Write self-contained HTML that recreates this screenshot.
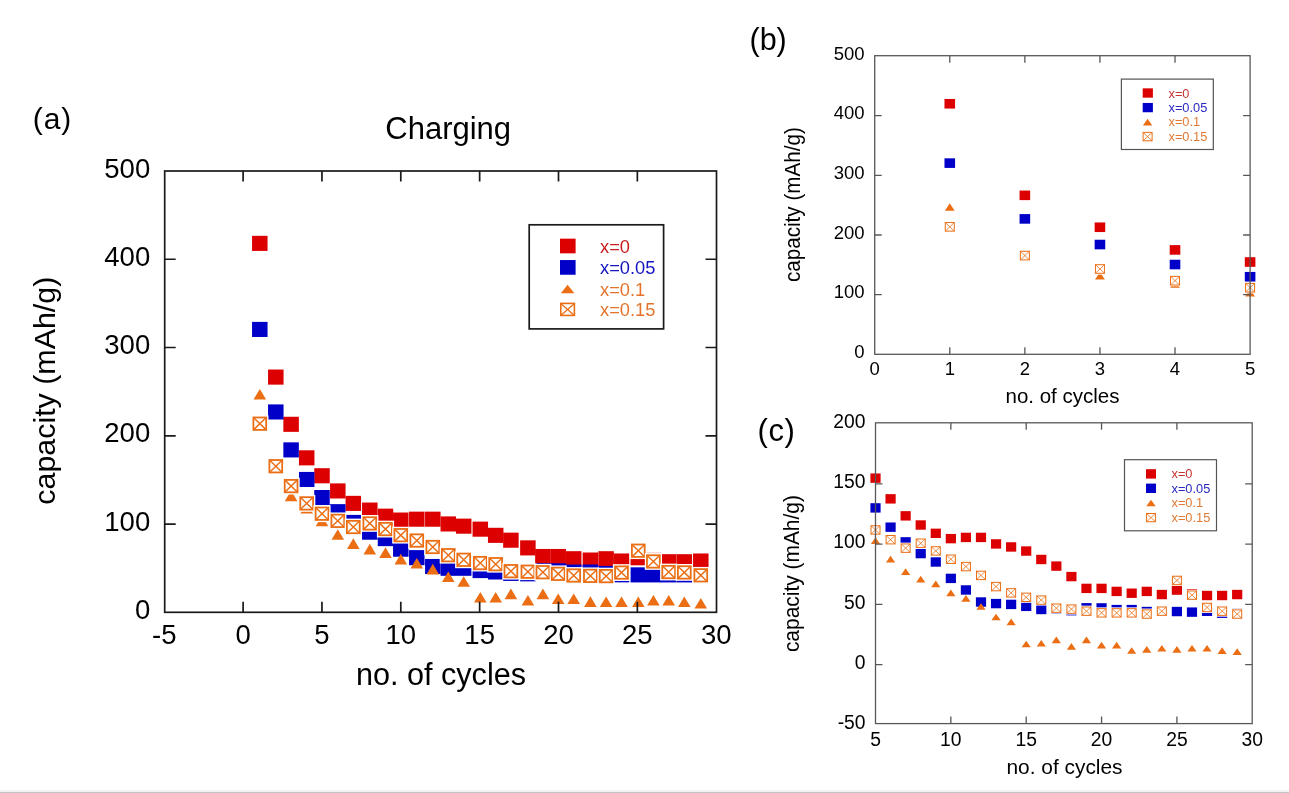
<!DOCTYPE html>
<html><head><meta charset="utf-8"><title>Charging capacity</title>
<style>html,body{margin:0;padding:0;background:#fff;overflow:hidden}svg{display:block;filter:blur(0.4px)}</style>
</head><body>
<svg width="1289" height="793" viewBox="0 0 1289 793" font-family="Liberation Sans, sans-serif">
<rect width="1289" height="793" fill="#fff"/>
<g id="pa">
<rect x="252.05" y="235.82" width="15.5" height="15.1" fill="#dc0000"/>
<rect x="268.05" y="369.54" width="15.5" height="15.1" fill="#dc0000"/>
<rect x="283.35" y="416.76" width="15.5" height="15.1" fill="#dc0000"/>
<rect x="298.95" y="450.29" width="15.5" height="15.1" fill="#dc0000"/>
<rect x="314.25" y="468.21" width="15.5" height="15.1" fill="#dc0000"/>
<rect x="330.05" y="483.39" width="15.5" height="15.1" fill="#dc0000"/>
<rect x="345.55" y="495.84" width="15.5" height="15.1" fill="#dc0000"/>
<rect x="362.05" y="502.54" width="15.5" height="15.1" fill="#dc0000"/>
<rect x="377.75" y="508.63" width="15.5" height="15.1" fill="#dc0000"/>
<rect x="393.05" y="512.52" width="15.5" height="15.1" fill="#dc0000"/>
<rect x="409.05" y="511.64" width="15.5" height="15.1" fill="#dc0000"/>
<rect x="425.05" y="511.64" width="15.5" height="15.1" fill="#dc0000"/>
<rect x="440.55" y="516.4" width="15.5" height="15.1" fill="#dc0000"/>
<rect x="455.95" y="518.61" width="15.5" height="15.1" fill="#dc0000"/>
<rect x="472.55" y="521.61" width="15.5" height="15.1" fill="#dc0000"/>
<rect x="487.95" y="527.79" width="15.5" height="15.1" fill="#dc0000"/>
<rect x="503.15" y="532.64" width="15.5" height="15.1" fill="#dc0000"/>
<rect x="520.15" y="540.32" width="15.5" height="15.1" fill="#dc0000"/>
<rect x="535.15" y="548.97" width="15.5" height="15.1" fill="#dc0000"/>
<rect x="550.45" y="548.97" width="15.5" height="15.1" fill="#dc0000"/>
<rect x="565.95" y="551.18" width="15.5" height="15.1" fill="#dc0000"/>
<rect x="582.65" y="552.5" width="15.5" height="15.1" fill="#dc0000"/>
<rect x="598.35" y="551.18" width="15.5" height="15.1" fill="#dc0000"/>
<rect x="613.75" y="553.47" width="15.5" height="15.1" fill="#dc0000"/>
<rect x="630.55" y="550.21" width="15.5" height="15.1" fill="#dc0000"/>
<rect x="645.65" y="552.85" width="15.5" height="15.1" fill="#dc0000"/>
<rect x="660.95" y="554.18" width="15.5" height="15.1" fill="#dc0000"/>
<rect x="676.55" y="554.18" width="15.5" height="15.1" fill="#dc0000"/>
<rect x="693.05" y="553.47" width="15.5" height="15.1" fill="#dc0000"/>
<rect x="252.05" y="321.88" width="15.5" height="15.1" fill="#0000c8"/>
<rect x="268.05" y="404.4" width="15.5" height="15.1" fill="#0000c8"/>
<rect x="283.35" y="442.35" width="15.5" height="15.1" fill="#0000c8"/>
<rect x="298.95" y="471.92" width="15.5" height="15.1" fill="#0000c8"/>
<rect x="314.25" y="490.01" width="15.5" height="15.1" fill="#0000c8"/>
<rect x="330.05" y="504.13" width="15.5" height="15.1" fill="#0000c8"/>
<rect x="345.55" y="514.9" width="15.5" height="15.1" fill="#0000c8"/>
<rect x="362.05" y="524.61" width="15.5" height="15.1" fill="#0000c8"/>
<rect x="377.75" y="531.05" width="15.5" height="15.1" fill="#0000c8"/>
<rect x="393.05" y="541.64" width="15.5" height="15.1" fill="#0000c8"/>
<rect x="409.05" y="550.12" width="15.5" height="15.1" fill="#0000c8"/>
<rect x="425.05" y="558.94" width="15.5" height="15.1" fill="#0000c8"/>
<rect x="440.55" y="560.71" width="15.5" height="15.1" fill="#0000c8"/>
<rect x="455.95" y="560.71" width="15.5" height="15.1" fill="#0000c8"/>
<rect x="472.55" y="563" width="15.5" height="15.1" fill="#0000c8"/>
<rect x="487.95" y="564.42" width="15.5" height="15.1" fill="#0000c8"/>
<rect x="503.15" y="565.83" width="15.5" height="15.1" fill="#0000c8"/>
<rect x="520.15" y="566.27" width="15.5" height="15.1" fill="#0000c8"/>
<rect x="535.15" y="563.18" width="15.5" height="15.1" fill="#0000c8"/>
<rect x="550.45" y="563.27" width="15.5" height="15.1" fill="#0000c8"/>
<rect x="565.95" y="564.5" width="15.5" height="15.1" fill="#0000c8"/>
<rect x="582.65" y="564.5" width="15.5" height="15.1" fill="#0000c8"/>
<rect x="598.35" y="565.92" width="15.5" height="15.1" fill="#0000c8"/>
<rect x="613.75" y="567.24" width="15.5" height="15.1" fill="#0000c8"/>
<rect x="630.55" y="567.33" width="15.5" height="15.1" fill="#0000c8"/>
<rect x="645.65" y="567.33" width="15.5" height="15.1" fill="#0000c8"/>
<rect x="660.95" y="567.33" width="15.5" height="15.1" fill="#0000c8"/>
<rect x="676.55" y="567.33" width="15.5" height="15.1" fill="#0000c8"/>
<rect x="693.05" y="567.95" width="15.5" height="15.1" fill="#0000c8"/>
<path d="M259.8 388.88L266.1 399.48L253.5 399.48Z" fill="#eb6e14"/>
<path d="M275.8 458.61L282.1 469.21L269.5 469.21Z" fill="#eb6e14"/>
<path d="M291.1 490.56L297.4 501.16L284.8 501.16Z" fill="#eb6e14"/>
<path d="M306.7 502.91L313 513.51L300.4 513.51Z" fill="#eb6e14"/>
<path d="M322 515.62L328.3 526.22L315.7 526.22Z" fill="#eb6e14"/>
<path d="M337.8 529.13L344.1 539.73L331.5 539.73Z" fill="#eb6e14"/>
<path d="M353.3 538.3L359.6 548.9L347 548.9Z" fill="#eb6e14"/>
<path d="M369.8 543.78L376.1 554.38L363.5 554.38Z" fill="#eb6e14"/>
<path d="M385.5 547.31L391.8 557.91L379.2 557.91Z" fill="#eb6e14"/>
<path d="M400.8 553.84L407.1 564.44L394.5 564.44Z" fill="#eb6e14"/>
<path d="M416.8 557.9L423.1 568.5L410.5 568.5Z" fill="#eb6e14"/>
<path d="M432.8 563.81L439.1 574.41L426.5 574.41Z" fill="#eb6e14"/>
<path d="M448.3 571.49L454.6 582.09L442 582.09Z" fill="#eb6e14"/>
<path d="M463.7 576.17L470 586.77L457.4 586.77Z" fill="#eb6e14"/>
<path d="M480.3 591.88L486.6 602.48L474 602.48Z" fill="#eb6e14"/>
<path d="M495.7 591.88L502 602.48L489.4 602.48Z" fill="#eb6e14"/>
<path d="M510.9 588.61L517.2 599.21L504.6 599.21Z" fill="#eb6e14"/>
<path d="M527.9 594.88L534.2 605.48L521.6 605.48Z" fill="#eb6e14"/>
<path d="M542.9 588.61L549.2 599.21L536.6 599.21Z" fill="#eb6e14"/>
<path d="M558.2 593.38L564.5 603.98L551.9 603.98Z" fill="#eb6e14"/>
<path d="M573.7 593.38L580 603.98L567.4 603.98Z" fill="#eb6e14"/>
<path d="M590.4 596.29L596.7 606.89L584.1 606.89Z" fill="#eb6e14"/>
<path d="M606.1 596.38L612.4 606.98L599.8 606.98Z" fill="#eb6e14"/>
<path d="M621.5 596.38L627.8 606.98L615.2 606.98Z" fill="#eb6e14"/>
<path d="M638.3 596.38L644.6 606.98L632 606.98Z" fill="#eb6e14"/>
<path d="M653.4 594.97L659.7 605.57L647.1 605.57Z" fill="#eb6e14"/>
<path d="M668.7 594.97L675 605.57L662.4 605.57Z" fill="#eb6e14"/>
<path d="M684.3 596.38L690.6 606.98L678 606.98Z" fill="#eb6e14"/>
<path d="M700.8 597.88L707.1 608.48L694.5 608.48Z" fill="#eb6e14"/>
<rect x="251.2" y="415.29" width="17.2" height="16.8" fill="#fff"/><rect x="253.4" y="417.49" width="12.8" height="12.4" fill="#fff" stroke="#eb6e14" stroke-width="1.8"/><path d="M253.4 417.49L266.2 429.89M266.2 417.49L253.4 429.89" stroke="#eb6e14" stroke-width="1.44" fill="none"/>
<rect x="267.2" y="457.83" width="17.2" height="16.8" fill="#fff"/><rect x="269.4" y="460.03" width="12.8" height="12.4" fill="#fff" stroke="#eb6e14" stroke-width="1.8"/><path d="M269.4 460.03L282.2 472.43M282.2 460.03L269.4 472.43" stroke="#eb6e14" stroke-width="1.44" fill="none"/>
<rect x="282.5" y="477.69" width="17.2" height="16.8" fill="#fff"/><rect x="284.7" y="479.89" width="12.8" height="12.4" fill="#fff" stroke="#eb6e14" stroke-width="1.8"/><path d="M284.7 479.89L297.5 492.29M297.5 479.89L284.7 492.29" stroke="#eb6e14" stroke-width="1.44" fill="none"/>
<rect x="298.1" y="494.99" width="17.2" height="16.8" fill="#fff"/><rect x="300.3" y="497.19" width="12.8" height="12.4" fill="#fff" stroke="#eb6e14" stroke-width="1.8"/><path d="M300.3 497.19L313.1 509.59M313.1 497.19L300.3 509.59" stroke="#eb6e14" stroke-width="1.44" fill="none"/>
<rect x="313.4" y="505.31" width="17.2" height="16.8" fill="#fff"/><rect x="315.6" y="507.51" width="12.8" height="12.4" fill="#fff" stroke="#eb6e14" stroke-width="1.8"/><path d="M315.6 507.51L328.4 519.91M328.4 507.51L315.6 519.91" stroke="#eb6e14" stroke-width="1.44" fill="none"/>
<rect x="329.2" y="512.46" width="17.2" height="16.8" fill="#fff"/><rect x="331.4" y="514.66" width="12.8" height="12.4" fill="#fff" stroke="#eb6e14" stroke-width="1.8"/><path d="M331.4 514.66L344.2 527.06M344.2 514.66L331.4 527.06" stroke="#eb6e14" stroke-width="1.44" fill="none"/>
<rect x="344.7" y="518.64" width="17.2" height="16.8" fill="#fff"/><rect x="346.9" y="520.84" width="12.8" height="12.4" fill="#fff" stroke="#eb6e14" stroke-width="1.8"/><path d="M346.9 520.84L359.7 533.24M359.7 520.84L346.9 533.24" stroke="#eb6e14" stroke-width="1.44" fill="none"/>
<rect x="361.2" y="515.02" width="17.2" height="16.8" fill="#fff"/><rect x="363.4" y="517.22" width="12.8" height="12.4" fill="#fff" stroke="#eb6e14" stroke-width="1.8"/><path d="M363.4 517.22L376.2 529.62M376.2 517.22L363.4 529.62" stroke="#eb6e14" stroke-width="1.44" fill="none"/>
<rect x="376.9" y="520.67" width="17.2" height="16.8" fill="#fff"/><rect x="379.1" y="522.87" width="12.8" height="12.4" fill="#fff" stroke="#eb6e14" stroke-width="1.8"/><path d="M379.1 522.87L391.9 535.27M391.9 522.87L379.1 535.27" stroke="#eb6e14" stroke-width="1.44" fill="none"/>
<rect x="392.2" y="526.76" width="17.2" height="16.8" fill="#fff"/><rect x="394.4" y="528.96" width="12.8" height="12.4" fill="#fff" stroke="#eb6e14" stroke-width="1.8"/><path d="M394.4 528.96L407.2 541.36M407.2 528.96L394.4 541.36" stroke="#eb6e14" stroke-width="1.44" fill="none"/>
<rect x="408.2" y="532.14" width="17.2" height="16.8" fill="#fff"/><rect x="410.4" y="534.34" width="12.8" height="12.4" fill="#fff" stroke="#eb6e14" stroke-width="1.8"/><path d="M410.4 534.34L423.2 546.74M423.2 534.34L410.4 546.74" stroke="#eb6e14" stroke-width="1.44" fill="none"/>
<rect x="424.2" y="538.59" width="17.2" height="16.8" fill="#fff"/><rect x="426.4" y="540.79" width="12.8" height="12.4" fill="#fff" stroke="#eb6e14" stroke-width="1.8"/><path d="M426.4 540.79L439.2 553.19M439.2 540.79L426.4 553.19" stroke="#eb6e14" stroke-width="1.44" fill="none"/>
<rect x="439.7" y="546.8" width="17.2" height="16.8" fill="#fff"/><rect x="441.9" y="549" width="12.8" height="12.4" fill="#fff" stroke="#eb6e14" stroke-width="1.8"/><path d="M441.9 549L454.7 561.4M454.7 549L441.9 561.4" stroke="#eb6e14" stroke-width="1.44" fill="none"/>
<rect x="455.1" y="551.39" width="17.2" height="16.8" fill="#fff"/><rect x="457.3" y="553.59" width="12.8" height="12.4" fill="#fff" stroke="#eb6e14" stroke-width="1.8"/><path d="M457.3 553.59L470.1 565.99M470.1 553.59L457.3 565.99" stroke="#eb6e14" stroke-width="1.44" fill="none"/>
<rect x="471.7" y="554.65" width="17.2" height="16.8" fill="#fff"/><rect x="473.9" y="556.85" width="12.8" height="12.4" fill="#fff" stroke="#eb6e14" stroke-width="1.8"/><path d="M473.9 556.85L486.7 569.25M486.7 556.85L473.9 569.25" stroke="#eb6e14" stroke-width="1.44" fill="none"/>
<rect x="487.1" y="555.8" width="17.2" height="16.8" fill="#fff"/><rect x="489.3" y="558" width="12.8" height="12.4" fill="#fff" stroke="#eb6e14" stroke-width="1.8"/><path d="M489.3 558L502.1 570.4M502.1 558L489.3 570.4" stroke="#eb6e14" stroke-width="1.44" fill="none"/>
<rect x="502.3" y="562.77" width="17.2" height="16.8" fill="#fff"/><rect x="504.5" y="564.97" width="12.8" height="12.4" fill="#fff" stroke="#eb6e14" stroke-width="1.8"/><path d="M504.5 564.97L517.3 577.37M517.3 564.97L504.5 577.37" stroke="#eb6e14" stroke-width="1.44" fill="none"/>
<rect x="519.3" y="563.3" width="17.2" height="16.8" fill="#fff"/><rect x="521.5" y="565.5" width="12.8" height="12.4" fill="#fff" stroke="#eb6e14" stroke-width="1.8"/><path d="M521.5 565.5L534.3 577.9M534.3 565.5L521.5 577.9" stroke="#eb6e14" stroke-width="1.44" fill="none"/>
<rect x="534.3" y="563.83" width="17.2" height="16.8" fill="#fff"/><rect x="536.5" y="566.03" width="12.8" height="12.4" fill="#fff" stroke="#eb6e14" stroke-width="1.8"/><path d="M536.5 566.03L549.3 578.43M549.3 566.03L536.5 578.43" stroke="#eb6e14" stroke-width="1.44" fill="none"/>
<rect x="549.6" y="565.42" width="17.2" height="16.8" fill="#fff"/><rect x="551.8" y="567.62" width="12.8" height="12.4" fill="#fff" stroke="#eb6e14" stroke-width="1.8"/><path d="M551.8 567.62L564.6 580.02M564.6 567.62L551.8 580.02" stroke="#eb6e14" stroke-width="1.44" fill="none"/>
<rect x="565.1" y="567.1" width="17.2" height="16.8" fill="#fff"/><rect x="567.3" y="569.3" width="12.8" height="12.4" fill="#fff" stroke="#eb6e14" stroke-width="1.8"/><path d="M567.3 569.3L580.1 581.7M580.1 569.3L567.3 581.7" stroke="#eb6e14" stroke-width="1.44" fill="none"/>
<rect x="581.8" y="567.45" width="17.2" height="16.8" fill="#fff"/><rect x="584" y="569.65" width="12.8" height="12.4" fill="#fff" stroke="#eb6e14" stroke-width="1.8"/><path d="M584 569.65L596.8 582.05M596.8 569.65L584 582.05" stroke="#eb6e14" stroke-width="1.44" fill="none"/>
<rect x="597.5" y="567.71" width="17.2" height="16.8" fill="#fff"/><rect x="599.7" y="569.91" width="12.8" height="12.4" fill="#fff" stroke="#eb6e14" stroke-width="1.8"/><path d="M599.7 569.91L612.5 582.31M612.5 569.91L599.7 582.31" stroke="#eb6e14" stroke-width="1.44" fill="none"/>
<rect x="612.9" y="564.18" width="17.2" height="16.8" fill="#fff"/><rect x="615.1" y="566.38" width="12.8" height="12.4" fill="#fff" stroke="#eb6e14" stroke-width="1.8"/><path d="M615.1 566.38L627.9 578.78M627.9 566.38L615.1 578.78" stroke="#eb6e14" stroke-width="1.44" fill="none"/>
<rect x="629.7" y="542.29" width="17.2" height="16.8" fill="#fff"/><rect x="631.9" y="544.49" width="12.8" height="12.4" fill="#fff" stroke="#eb6e14" stroke-width="1.8"/><path d="M631.9 544.49L644.7 556.89M644.7 544.49L631.9 556.89" stroke="#eb6e14" stroke-width="1.44" fill="none"/>
<rect x="644.8" y="553.06" width="17.2" height="16.8" fill="#fff"/><rect x="647" y="555.26" width="12.8" height="12.4" fill="#fff" stroke="#eb6e14" stroke-width="1.8"/><path d="M647 555.26L659.8 567.66M659.8 555.26L647 567.66" stroke="#eb6e14" stroke-width="1.44" fill="none"/>
<rect x="660.1" y="563.65" width="17.2" height="16.8" fill="#fff"/><rect x="662.3" y="565.85" width="12.8" height="12.4" fill="#fff" stroke="#eb6e14" stroke-width="1.8"/><path d="M662.3 565.85L675.1 578.25M675.1 565.85L662.3 578.25" stroke="#eb6e14" stroke-width="1.44" fill="none"/>
<rect x="675.7" y="564.01" width="17.2" height="16.8" fill="#fff"/><rect x="677.9" y="566.21" width="12.8" height="12.4" fill="#fff" stroke="#eb6e14" stroke-width="1.8"/><path d="M677.9 566.21L690.7 578.61M690.7 566.21L677.9 578.61" stroke="#eb6e14" stroke-width="1.44" fill="none"/>
<rect x="692.2" y="566.92" width="17.2" height="16.8" fill="#fff"/><rect x="694.4" y="569.12" width="12.8" height="12.4" fill="#fff" stroke="#eb6e14" stroke-width="1.8"/><path d="M694.4 569.12L707.2 581.52M707.2 569.12L694.4 581.52" stroke="#eb6e14" stroke-width="1.44" fill="none"/>
<path d="M243.1 612.3V601.8M243.1 171V181.5M321.95 612.3V601.8M321.95 171V181.5M400.8 612.3V601.8M400.8 171V181.5M479.65 612.3V601.8M479.65 171V181.5M558.5 612.3V601.8M558.5 171V181.5M637.35 612.3V601.8M637.35 171V181.5M164.7 524.04H175.7M716.5 524.04H705.5M164.7 435.78H175.7M716.5 435.78H705.5M164.7 347.52H175.7M716.5 347.52H705.5M164.7 259.26H175.7M716.5 259.26H705.5" stroke="#1a1a1a" stroke-width="1.7" fill="none"/>
<rect x="164.7" y="171" width="551.8" height="441.3" fill="none" stroke="#1a1a1a" stroke-width="1.7"/>
<text x="150.2" y="619" font-size="27.5" text-anchor="end">0</text>
<text x="150.2" y="530.74" font-size="27.5" text-anchor="end">100</text>
<text x="150.2" y="442.48" font-size="27.5" text-anchor="end">200</text>
<text x="150.2" y="354.22" font-size="27.5" text-anchor="end">300</text>
<text x="150.2" y="265.96" font-size="27.5" text-anchor="end">400</text>
<text x="150.2" y="177.7" font-size="27.5" text-anchor="end">500</text>
<text x="164.25" y="643.8" font-size="27.5" text-anchor="middle">-5</text>
<text x="243.1" y="643.8" font-size="27.5" text-anchor="middle">0</text>
<text x="321.95" y="643.8" font-size="27.5" text-anchor="middle">5</text>
<text x="400.8" y="643.8" font-size="27.5" text-anchor="middle">10</text>
<text x="479.65" y="643.8" font-size="27.5" text-anchor="middle">15</text>
<text x="558.5" y="643.8" font-size="27.5" text-anchor="middle">20</text>
<text x="637.35" y="643.8" font-size="27.5" text-anchor="middle">25</text>
<text x="716.2" y="643.8" font-size="27.5" text-anchor="middle">30</text>
<text x="441" y="685" font-size="30.6" text-anchor="middle">no. of cycles</text>
<text x="448.2" y="138.7" font-size="31" text-anchor="middle">Charging</text>
<text transform="translate(54.5 390.7) rotate(-90)" font-size="30" text-anchor="middle" textLength="228" lengthAdjust="spacingAndGlyphs">capacity (mAh/g)</text>
<text x="32.8" y="129.3" font-size="30" letter-spacing="0.9">(a)</text>
<rect x="529.2" y="224.8" width="134.4" height="104.1" fill="#fff" stroke="#1a1a1a" stroke-width="1.7"/>
<rect x="560" y="238.65" width="15.6" height="14.7" fill="#dc0000"/>
<rect x="560" y="260.05" width="15.6" height="14.7" fill="#0000c8"/>
<path d="M567.6 284.65L574.35 293.35L560.85 293.35Z" fill="#eb6e14"/>
<rect x="560.8" y="303.4" width="13.6" height="12" fill="#fff" stroke="#eb6e14" stroke-width="1.6"/><path d="M560.8 303.4L574.4 315.4M574.4 303.4L560.8 315.4" stroke="#eb6e14" stroke-width="1.28" fill="none"/>
<text x="600" y="252.7" font-size="18.3" fill="#c81e1e">x=0</text>
<text x="600" y="274.2" font-size="18.3" fill="#1414c0">x=0.05</text>
<text x="600" y="295.6" font-size="18.3" fill="#e4742c">x=0.1</text>
<text x="600" y="316.2" font-size="18.3" fill="#e4742c">x=0.15</text>
</g>
<g id="pb">
<rect x="944.48" y="98.97" width="10.6" height="9.6" fill="#dc0000"/>
<rect x="1019.56" y="190.53" width="10.6" height="9.6" fill="#dc0000"/>
<rect x="1094.64" y="222.45" width="10.6" height="9.6" fill="#dc0000"/>
<rect x="1169.72" y="245.11" width="10.6" height="9.6" fill="#dc0000"/>
<rect x="1244.8" y="257.22" width="10.6" height="9.6" fill="#dc0000"/>
<rect x="944.48" y="158.32" width="10.6" height="9.6" fill="#0000c8"/>
<rect x="1019.56" y="214.09" width="10.6" height="9.6" fill="#0000c8"/>
<rect x="1094.64" y="239.74" width="10.6" height="9.6" fill="#0000c8"/>
<rect x="1169.72" y="259.73" width="10.6" height="9.6" fill="#0000c8"/>
<rect x="1244.8" y="271.95" width="10.6" height="9.6" fill="#0000c8"/>
<path d="M949.78 203.36L954.68 210.76L944.88 210.76Z" fill="#eb6e14"/>
<path d="M1024.86 250.48L1029.76 257.88L1019.96 257.88Z" fill="#eb6e14"/>
<path d="M1099.94 272.08L1104.84 279.48L1095.04 279.48Z" fill="#eb6e14"/>
<path d="M1175.02 280.43L1179.92 287.83L1170.12 287.83Z" fill="#eb6e14"/>
<path d="M1250.1 289.02L1255 296.42L1245.2 296.42Z" fill="#eb6e14"/>
<rect x="943.98" y="221.23" width="11.6" height="11.2" fill="#fff"/><rect x="945.28" y="222.53" width="9" height="8.6" fill="#fff" stroke="#eb6e14" stroke-width="1"/><path d="M945.28 222.53L954.28 231.13M954.28 222.53L945.28 231.13" stroke="#eb6e14" stroke-width="0.8" fill="none"/>
<rect x="1019.06" y="249.98" width="11.6" height="11.2" fill="#fff"/><rect x="1020.36" y="251.28" width="9" height="8.6" fill="#fff" stroke="#eb6e14" stroke-width="1"/><path d="M1020.36 251.28L1029.36 259.88M1029.36 251.28L1020.36 259.88" stroke="#eb6e14" stroke-width="0.8" fill="none"/>
<rect x="1094.14" y="263.4" width="11.6" height="11.2" fill="#fff"/><rect x="1095.44" y="264.7" width="9" height="8.6" fill="#fff" stroke="#eb6e14" stroke-width="1"/><path d="M1095.44 264.7L1104.44 273.3M1104.44 264.7L1095.44 273.3" stroke="#eb6e14" stroke-width="0.8" fill="none"/>
<rect x="1169.22" y="275.09" width="11.6" height="11.2" fill="#fff"/><rect x="1170.52" y="276.39" width="9" height="8.6" fill="#fff" stroke="#eb6e14" stroke-width="1"/><path d="M1170.52 276.39L1179.52 284.99M1179.52 276.39L1170.52 284.99" stroke="#eb6e14" stroke-width="0.8" fill="none"/>
<rect x="1244.3" y="282.07" width="11.6" height="11.2" fill="#fff"/><rect x="1245.6" y="283.37" width="9" height="8.6" fill="#fff" stroke="#eb6e14" stroke-width="1"/><path d="M1245.6 283.37L1254.6 291.97M1254.6 283.37L1245.6 291.97" stroke="#eb6e14" stroke-width="0.8" fill="none"/>
<path d="M949.78 354.3V347.3M949.78 55.7V62.7M1024.86 354.3V347.3M1024.86 55.7V62.7M1099.94 354.3V347.3M1099.94 55.7V62.7M1175.02 354.3V347.3M1175.02 55.7V62.7M874.7 294.65H881.7M1250.1 294.65H1243.1M874.7 235H881.7M1250.1 235H1243.1M874.7 175.35H881.7M1250.1 175.35H1243.1M874.7 115.7H881.7M1250.1 115.7H1243.1" stroke="#585858" stroke-width="1.3" fill="none"/>
<rect x="874.7" y="55.7" width="375.4" height="298.6" fill="none" stroke="#585858" stroke-width="1.3"/>
<text x="864.5" y="358" font-size="18.5" text-anchor="end">0</text>
<text x="864.5" y="298.35" font-size="18.5" text-anchor="end">100</text>
<text x="864.5" y="238.7" font-size="18.5" text-anchor="end">200</text>
<text x="864.5" y="179.05" font-size="18.5" text-anchor="end">300</text>
<text x="864.5" y="119.4" font-size="18.5" text-anchor="end">400</text>
<text x="864.5" y="59.75" font-size="18.5" text-anchor="end">500</text>
<text x="874.7" y="375" font-size="18.5" text-anchor="middle">0</text>
<text x="949.78" y="375" font-size="18.5" text-anchor="middle">1</text>
<text x="1024.86" y="375" font-size="18.5" text-anchor="middle">2</text>
<text x="1099.94" y="375" font-size="18.5" text-anchor="middle">3</text>
<text x="1175.02" y="375" font-size="18.5" text-anchor="middle">4</text>
<text x="1250.1" y="375" font-size="18.5" text-anchor="middle">5</text>
<text x="1062.5" y="402.8" font-size="20.5" text-anchor="middle">no. of cycles</text>
<text transform="translate(799.6 204.6) rotate(-90)" font-size="21.3" text-anchor="middle" textLength="155" lengthAdjust="spacingAndGlyphs">capacity (mAh/g)</text>
<text x="749.5" y="50" font-size="30.5">(b)</text>
<rect x="1121.4" y="79.1" width="91.9" height="70.4" fill="#fff" stroke="#555" stroke-width="1.2"/>
<rect x="1142.7" y="88.35" width="10.2" height="9.3" fill="#dc0000"/>
<rect x="1142.7" y="102.95" width="10.2" height="9.3" fill="#0000c8"/>
<path d="M1147.6 118.8L1152.3 125.4L1142.9 125.4Z" fill="#eb6e14"/>
<rect x="1143.1" y="132.4" width="9" height="8.4" fill="#fff" stroke="#eb6e14" stroke-width="1"/><path d="M1143.1 132.4L1152.1 140.8M1152.1 132.4L1143.1 140.8" stroke="#eb6e14" stroke-width="0.8" fill="none"/>
<text x="1168.5" y="97.6" font-size="12.8" fill="#c83232">x=0</text>
<text x="1168.5" y="112" font-size="12.8" fill="#2828c0">x=0.05</text>
<text x="1168.5" y="126.4" font-size="12.8" fill="#e07a34">x=0.1</text>
<text x="1168.5" y="141" font-size="12.8" fill="#e07a34">x=0.15</text>
</g>
<g id="pc">
<rect x="870.4" y="473.44" width="10.2" height="9.4" fill="#dc0000"/>
<rect x="885.47" y="494.16" width="10.2" height="9.4" fill="#dc0000"/>
<rect x="900.54" y="511.15" width="10.2" height="9.4" fill="#dc0000"/>
<rect x="915.61" y="520.31" width="10.2" height="9.4" fill="#dc0000"/>
<rect x="930.68" y="528.63" width="10.2" height="9.4" fill="#dc0000"/>
<rect x="945.75" y="533.93" width="10.2" height="9.4" fill="#dc0000"/>
<rect x="960.82" y="532.72" width="10.2" height="9.4" fill="#dc0000"/>
<rect x="975.89" y="532.72" width="10.2" height="9.4" fill="#dc0000"/>
<rect x="990.96" y="539.23" width="10.2" height="9.4" fill="#dc0000"/>
<rect x="1006.03" y="542.24" width="10.2" height="9.4" fill="#dc0000"/>
<rect x="1021.1" y="546.34" width="10.2" height="9.4" fill="#dc0000"/>
<rect x="1036.17" y="554.77" width="10.2" height="9.4" fill="#dc0000"/>
<rect x="1051.24" y="561.4" width="10.2" height="9.4" fill="#dc0000"/>
<rect x="1066.31" y="571.88" width="10.2" height="9.4" fill="#dc0000"/>
<rect x="1081.38" y="583.69" width="10.2" height="9.4" fill="#dc0000"/>
<rect x="1096.45" y="583.69" width="10.2" height="9.4" fill="#dc0000"/>
<rect x="1111.52" y="586.71" width="10.2" height="9.4" fill="#dc0000"/>
<rect x="1126.59" y="588.51" width="10.2" height="9.4" fill="#dc0000"/>
<rect x="1141.66" y="586.71" width="10.2" height="9.4" fill="#dc0000"/>
<rect x="1156.73" y="589.84" width="10.2" height="9.4" fill="#dc0000"/>
<rect x="1171.8" y="585.38" width="10.2" height="9.4" fill="#dc0000"/>
<rect x="1186.87" y="589" width="10.2" height="9.4" fill="#dc0000"/>
<rect x="1201.94" y="590.8" width="10.2" height="9.4" fill="#dc0000"/>
<rect x="1217.01" y="590.8" width="10.2" height="9.4" fill="#dc0000"/>
<rect x="1232.08" y="589.84" width="10.2" height="9.4" fill="#dc0000"/>
<rect x="870.4" y="503.2" width="10.2" height="9.4" fill="#0000c8"/>
<rect x="885.47" y="522.48" width="10.2" height="9.4" fill="#0000c8"/>
<rect x="900.54" y="537.18" width="10.2" height="9.4" fill="#0000c8"/>
<rect x="915.61" y="548.87" width="10.2" height="9.4" fill="#0000c8"/>
<rect x="930.68" y="557.3" width="10.2" height="9.4" fill="#0000c8"/>
<rect x="945.75" y="573.69" width="10.2" height="9.4" fill="#0000c8"/>
<rect x="960.82" y="585.26" width="10.2" height="9.4" fill="#0000c8"/>
<rect x="975.89" y="597.31" width="10.2" height="9.4" fill="#0000c8"/>
<rect x="990.96" y="598.88" width="10.2" height="9.4" fill="#0000c8"/>
<rect x="1006.03" y="599.72" width="10.2" height="9.4" fill="#0000c8"/>
<rect x="1021.1" y="601.65" width="10.2" height="9.4" fill="#0000c8"/>
<rect x="1036.17" y="604.78" width="10.2" height="9.4" fill="#0000c8"/>
<rect x="1051.24" y="604.42" width="10.2" height="9.4" fill="#0000c8"/>
<rect x="1066.31" y="605.99" width="10.2" height="9.4" fill="#0000c8"/>
<rect x="1081.38" y="603.09" width="10.2" height="9.4" fill="#0000c8"/>
<rect x="1096.45" y="603.21" width="10.2" height="9.4" fill="#0000c8"/>
<rect x="1111.52" y="604.9" width="10.2" height="9.4" fill="#0000c8"/>
<rect x="1126.59" y="604.9" width="10.2" height="9.4" fill="#0000c8"/>
<rect x="1141.66" y="606.83" width="10.2" height="9.4" fill="#0000c8"/>
<rect x="1156.73" y="606.59" width="10.2" height="9.4" fill="#0000c8"/>
<rect x="1171.8" y="606.83" width="10.2" height="9.4" fill="#0000c8"/>
<rect x="1186.87" y="607.43" width="10.2" height="9.4" fill="#0000c8"/>
<rect x="1201.94" y="606.59" width="10.2" height="9.4" fill="#0000c8"/>
<rect x="1217.01" y="608.52" width="10.2" height="9.4" fill="#0000c8"/>
<rect x="1232.08" y="608.76" width="10.2" height="9.4" fill="#0000c8"/>
<path d="M875.5 537.36L880.1 543.96L870.9 543.96Z" fill="#eb6e14"/>
<path d="M890.57 555.79L895.17 562.39L885.97 562.39Z" fill="#eb6e14"/>
<path d="M905.64 568.33L910.24 574.93L901.04 574.93Z" fill="#eb6e14"/>
<path d="M920.71 575.8L925.31 582.4L916.11 582.4Z" fill="#eb6e14"/>
<path d="M935.78 580.62L940.38 587.22L931.18 587.22Z" fill="#eb6e14"/>
<path d="M950.85 589.53L955.45 596.13L946.25 596.13Z" fill="#eb6e14"/>
<path d="M965.92 595.08L970.52 601.68L961.32 601.68Z" fill="#eb6e14"/>
<path d="M980.99 603.15L985.59 609.75L976.39 609.75Z" fill="#eb6e14"/>
<path d="M996.06 613.63L1000.66 620.23L991.46 620.23Z" fill="#eb6e14"/>
<path d="M1011.13 618.58L1015.73 625.17L1006.53 625.17Z" fill="#eb6e14"/>
<path d="M1026.2 640.75L1030.8 647.35L1021.6 647.35Z" fill="#eb6e14"/>
<path d="M1041.27 639.9L1045.87 646.5L1036.67 646.5Z" fill="#eb6e14"/>
<path d="M1056.34 636.53L1060.94 643.13L1051.74 643.13Z" fill="#eb6e14"/>
<path d="M1071.41 643.04L1076.01 649.64L1066.81 649.64Z" fill="#eb6e14"/>
<path d="M1086.48 636.53L1091.08 643.13L1081.88 643.13Z" fill="#eb6e14"/>
<path d="M1101.55 641.83L1106.15 648.43L1096.95 648.43Z" fill="#eb6e14"/>
<path d="M1116.62 641.83L1121.22 648.43L1112.02 648.43Z" fill="#eb6e14"/>
<path d="M1131.69 647.13L1136.29 653.73L1127.09 653.73Z" fill="#eb6e14"/>
<path d="M1146.76 646.05L1151.36 652.65L1142.16 652.65Z" fill="#eb6e14"/>
<path d="M1161.83 644.96L1166.43 651.56L1157.23 651.56Z" fill="#eb6e14"/>
<path d="M1176.9 646.05L1181.5 652.65L1172.3 652.65Z" fill="#eb6e14"/>
<path d="M1191.97 644.96L1196.57 651.56L1187.37 651.56Z" fill="#eb6e14"/>
<path d="M1207.04 644.96L1211.64 651.56L1202.44 651.56Z" fill="#eb6e14"/>
<path d="M1222.11 647.37L1226.71 653.97L1217.51 653.97Z" fill="#eb6e14"/>
<path d="M1237.18 648.34L1241.78 654.94L1232.58 654.94Z" fill="#eb6e14"/>
<rect x="869.7" y="524.45" width="11.6" height="11" fill="#fff"/><rect x="871" y="525.75" width="9" height="8.4" fill="#fff" stroke="#eb6e14" stroke-width="1"/><path d="M871 525.75L880 534.15M880 525.75L871 534.15" stroke="#eb6e14" stroke-width="0.8" fill="none"/>
<rect x="884.77" y="534.21" width="11.6" height="11" fill="#fff"/><rect x="886.07" y="535.51" width="9" height="8.4" fill="#fff" stroke="#eb6e14" stroke-width="1"/><path d="M886.07 535.51L895.07 543.91M895.07 535.51L886.07 543.91" stroke="#eb6e14" stroke-width="0.8" fill="none"/>
<rect x="899.84" y="542.65" width="11.6" height="11" fill="#fff"/><rect x="901.14" y="543.95" width="9" height="8.4" fill="#fff" stroke="#eb6e14" stroke-width="1"/><path d="M901.14 543.95L910.14 552.35M910.14 543.95L901.14 552.35" stroke="#eb6e14" stroke-width="0.8" fill="none"/>
<rect x="914.91" y="537.71" width="11.6" height="11" fill="#fff"/><rect x="916.21" y="539.01" width="9" height="8.4" fill="#fff" stroke="#eb6e14" stroke-width="1"/><path d="M916.21 539.01L925.21 547.41M925.21 539.01L916.21 547.41" stroke="#eb6e14" stroke-width="0.8" fill="none"/>
<rect x="929.98" y="545.42" width="11.6" height="11" fill="#fff"/><rect x="931.28" y="546.72" width="9" height="8.4" fill="#fff" stroke="#eb6e14" stroke-width="1"/><path d="M931.28 546.72L940.28 555.12M940.28 546.72L931.28 555.12" stroke="#eb6e14" stroke-width="0.8" fill="none"/>
<rect x="945.05" y="553.73" width="11.6" height="11" fill="#fff"/><rect x="946.35" y="555.03" width="9" height="8.4" fill="#fff" stroke="#eb6e14" stroke-width="1"/><path d="M946.35 555.03L955.35 563.43M955.35 555.03L946.35 563.43" stroke="#eb6e14" stroke-width="0.8" fill="none"/>
<rect x="960.12" y="561.08" width="11.6" height="11" fill="#fff"/><rect x="961.42" y="562.38" width="9" height="8.4" fill="#fff" stroke="#eb6e14" stroke-width="1"/><path d="M961.42 562.38L970.42 570.78M970.42 562.38L961.42 570.78" stroke="#eb6e14" stroke-width="0.8" fill="none"/>
<rect x="975.19" y="569.88" width="11.6" height="11" fill="#fff"/><rect x="976.49" y="571.18" width="9" height="8.4" fill="#fff" stroke="#eb6e14" stroke-width="1"/><path d="M976.49 571.18L985.49 579.58M985.49 571.18L976.49 579.58" stroke="#eb6e14" stroke-width="0.8" fill="none"/>
<rect x="990.26" y="581.09" width="11.6" height="11" fill="#fff"/><rect x="991.56" y="582.39" width="9" height="8.4" fill="#fff" stroke="#eb6e14" stroke-width="1"/><path d="M991.56 582.39L1000.56 590.79M1000.56 582.39L991.56 590.79" stroke="#eb6e14" stroke-width="0.8" fill="none"/>
<rect x="1005.33" y="587.35" width="11.6" height="11" fill="#fff"/><rect x="1006.63" y="588.65" width="9" height="8.4" fill="#fff" stroke="#eb6e14" stroke-width="1"/><path d="M1006.63 588.65L1015.63 597.05M1015.63 588.65L1006.63 597.05" stroke="#eb6e14" stroke-width="0.8" fill="none"/>
<rect x="1020.4" y="591.81" width="11.6" height="11" fill="#fff"/><rect x="1021.7" y="593.11" width="9" height="8.4" fill="#fff" stroke="#eb6e14" stroke-width="1"/><path d="M1021.7 593.11L1030.7 601.51M1030.7 593.11L1021.7 601.51" stroke="#eb6e14" stroke-width="0.8" fill="none"/>
<rect x="1035.47" y="594.58" width="11.6" height="11" fill="#fff"/><rect x="1036.77" y="595.88" width="9" height="8.4" fill="#fff" stroke="#eb6e14" stroke-width="1"/><path d="M1036.77 595.88L1045.77 604.28M1045.77 595.88L1036.77 604.28" stroke="#eb6e14" stroke-width="0.8" fill="none"/>
<rect x="1050.54" y="602.66" width="11.6" height="11" fill="#fff"/><rect x="1051.84" y="603.96" width="9" height="8.4" fill="#fff" stroke="#eb6e14" stroke-width="1"/><path d="M1051.84 603.96L1060.84 612.36M1060.84 603.96L1051.84 612.36" stroke="#eb6e14" stroke-width="0.8" fill="none"/>
<rect x="1065.61" y="603.62" width="11.6" height="11" fill="#fff"/><rect x="1066.91" y="604.92" width="9" height="8.4" fill="#fff" stroke="#eb6e14" stroke-width="1"/><path d="M1066.91 604.92L1075.91 613.32M1075.91 604.92L1066.91 613.32" stroke="#eb6e14" stroke-width="0.8" fill="none"/>
<rect x="1080.68" y="605.67" width="11.6" height="11" fill="#fff"/><rect x="1081.98" y="606.97" width="9" height="8.4" fill="#fff" stroke="#eb6e14" stroke-width="1"/><path d="M1081.98 606.97L1090.98 615.37M1090.98 606.97L1081.98 615.37" stroke="#eb6e14" stroke-width="0.8" fill="none"/>
<rect x="1095.75" y="607.36" width="11.6" height="11" fill="#fff"/><rect x="1097.05" y="608.66" width="9" height="8.4" fill="#fff" stroke="#eb6e14" stroke-width="1"/><path d="M1097.05 608.66L1106.05 617.06M1106.05 608.66L1097.05 617.06" stroke="#eb6e14" stroke-width="0.8" fill="none"/>
<rect x="1110.82" y="607.36" width="11.6" height="11" fill="#fff"/><rect x="1112.12" y="608.66" width="9" height="8.4" fill="#fff" stroke="#eb6e14" stroke-width="1"/><path d="M1112.12 608.66L1121.12 617.06M1121.12 608.66L1112.12 617.06" stroke="#eb6e14" stroke-width="0.8" fill="none"/>
<rect x="1125.89" y="607.36" width="11.6" height="11" fill="#fff"/><rect x="1127.19" y="608.66" width="9" height="8.4" fill="#fff" stroke="#eb6e14" stroke-width="1"/><path d="M1127.19 608.66L1136.19 617.06M1136.19 608.66L1127.19 617.06" stroke="#eb6e14" stroke-width="0.8" fill="none"/>
<rect x="1140.96" y="608.56" width="11.6" height="11" fill="#fff"/><rect x="1142.26" y="609.86" width="9" height="8.4" fill="#fff" stroke="#eb6e14" stroke-width="1"/><path d="M1142.26 609.86L1151.26 618.26M1151.26 609.86L1142.26 618.26" stroke="#eb6e14" stroke-width="0.8" fill="none"/>
<rect x="1156.03" y="605.67" width="11.6" height="11" fill="#fff"/><rect x="1157.33" y="606.97" width="9" height="8.4" fill="#fff" stroke="#eb6e14" stroke-width="1"/><path d="M1157.33 606.97L1166.33 615.37M1166.33 606.97L1157.33 615.37" stroke="#eb6e14" stroke-width="0.8" fill="none"/>
<rect x="1171.1" y="574.94" width="11.6" height="11" fill="#fff"/><rect x="1172.4" y="576.24" width="9" height="8.4" fill="#fff" stroke="#eb6e14" stroke-width="1"/><path d="M1172.4 576.24L1181.4 584.64M1181.4 576.24L1172.4 584.64" stroke="#eb6e14" stroke-width="0.8" fill="none"/>
<rect x="1186.17" y="589.64" width="11.6" height="11" fill="#fff"/><rect x="1187.47" y="590.94" width="9" height="8.4" fill="#fff" stroke="#eb6e14" stroke-width="1"/><path d="M1187.47 590.94L1196.47 599.34M1196.47 590.94L1187.47 599.34" stroke="#eb6e14" stroke-width="0.8" fill="none"/>
<rect x="1201.24" y="601.93" width="11.6" height="11" fill="#fff"/><rect x="1202.54" y="603.23" width="9" height="8.4" fill="#fff" stroke="#eb6e14" stroke-width="1"/><path d="M1202.54 603.23L1211.54 611.63M1211.54 603.23L1202.54 611.63" stroke="#eb6e14" stroke-width="0.8" fill="none"/>
<rect x="1216.31" y="605.67" width="11.6" height="11" fill="#fff"/><rect x="1217.61" y="606.97" width="9" height="8.4" fill="#fff" stroke="#eb6e14" stroke-width="1"/><path d="M1217.61 606.97L1226.61 615.37M1226.61 606.97L1217.61 615.37" stroke="#eb6e14" stroke-width="0.8" fill="none"/>
<rect x="1231.38" y="608.56" width="11.6" height="11" fill="#fff"/><rect x="1232.68" y="609.86" width="9" height="8.4" fill="#fff" stroke="#eb6e14" stroke-width="1"/><path d="M1232.68 609.86L1241.68 618.26M1241.68 609.86L1232.68 618.26" stroke="#eb6e14" stroke-width="0.8" fill="none"/>
<path d="M950.85 723.6V716.6M950.85 422.8V429.8M1026.2 723.6V716.6M1026.2 422.8V429.8M1101.55 723.6V716.6M1101.55 422.8V429.8M1176.9 723.6V716.6M1176.9 422.8V429.8M875.5 664.55H882.5M1252.2 664.55H1245.2M875.5 604.3H882.5M1252.2 604.3H1245.2M875.5 544.05H882.5M1252.2 544.05H1245.2M875.5 483.8H882.5M1252.2 483.8H1245.2" stroke="#585858" stroke-width="1.3" fill="none"/>
<rect x="875.5" y="422.8" width="376.7" height="300.8" fill="none" stroke="#585858" stroke-width="1.3"/>
<text x="865.5" y="729.1" font-size="19.3" text-anchor="end">-50</text>
<text x="865.5" y="668.85" font-size="19.3" text-anchor="end">0</text>
<text x="865.5" y="608.6" font-size="19.3" text-anchor="end">50</text>
<text x="865.5" y="548.35" font-size="19.3" text-anchor="end">100</text>
<text x="865.5" y="488.1" font-size="19.3" text-anchor="end">150</text>
<text x="865.5" y="427.85" font-size="19.3" text-anchor="end">200</text>
<text x="875.5" y="746" font-size="19.3" text-anchor="middle">5</text>
<text x="950.85" y="746" font-size="19.3" text-anchor="middle">10</text>
<text x="1026.2" y="746" font-size="19.3" text-anchor="middle">15</text>
<text x="1101.55" y="746" font-size="19.3" text-anchor="middle">20</text>
<text x="1176.9" y="746" font-size="19.3" text-anchor="middle">25</text>
<text x="1252.25" y="746" font-size="19.3" text-anchor="middle">30</text>
<text x="1064.5" y="774" font-size="20.9" text-anchor="middle">no. of cycles</text>
<text transform="translate(799.3 573.6) rotate(-90)" font-size="21.3" text-anchor="middle" textLength="157" lengthAdjust="spacingAndGlyphs">capacity (mAh/g)</text>
<text x="757.5" y="440.8" font-size="31" letter-spacing="0.6">(c)</text>
<rect x="1124.5" y="459.7" width="92" height="71.1" fill="#fff" stroke="#555" stroke-width="1.2"/>
<rect x="1146" y="469.2" width="10" height="9.4" fill="#dc0000"/>
<rect x="1146" y="483.6" width="10" height="9.4" fill="#0000c8"/>
<path d="M1151 499.8L1155.7 506.2L1146.3 506.2Z" fill="#eb6e14"/>
<rect x="1146.6" y="513.5" width="8.8" height="8.2" fill="#fff" stroke="#eb6e14" stroke-width="1"/><path d="M1146.6 513.5L1155.4 521.7M1155.4 513.5L1146.6 521.7" stroke="#eb6e14" stroke-width="0.8" fill="none"/>
<text x="1171.5" y="478.2" font-size="12.8" fill="#c83232">x=0</text>
<text x="1171.5" y="492.9" font-size="12.8" fill="#2828c0">x=0.05</text>
<text x="1171.5" y="507.3" font-size="12.8" fill="#e07a34">x=0.1</text>
<text x="1171.5" y="522.1" font-size="12.8" fill="#e07a34">x=0.15</text>
</g>
<rect x="0" y="790" width="1289" height="2" fill="#f2f2f2"/>
<rect x="0" y="792" width="1289" height="1" fill="#c2c2c2"/>
</svg>
</body></html>
